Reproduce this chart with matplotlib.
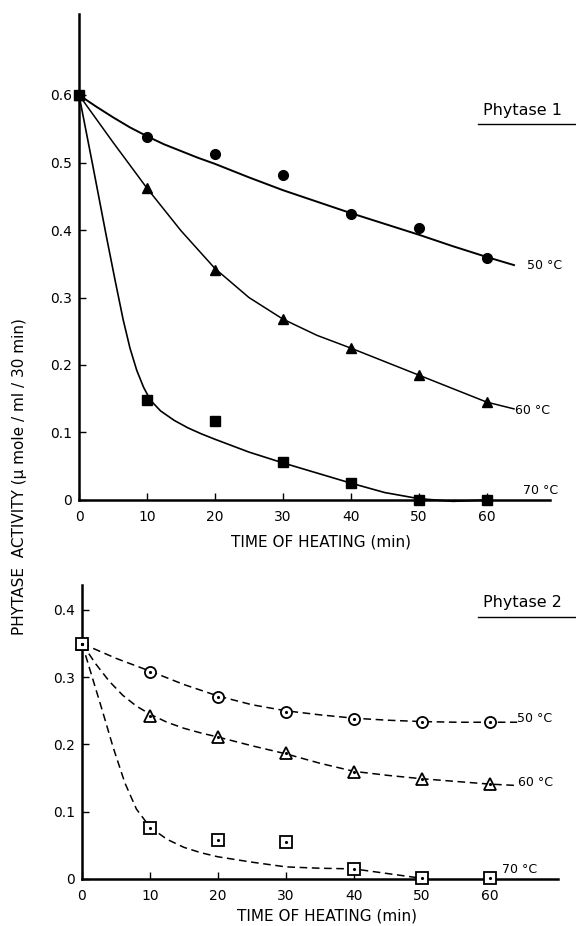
import matplotlib
matplotlib.use("Agg")
import matplotlib.pyplot as plt
from matplotlib.lines import Line2D

# ---------------- data ----------------
time_points = [0, 10, 20, 30, 40, 50, 60]

# Phytase 1 measured activities
p1_50 = [0.600, 0.538, 0.513, 0.481, 0.424, 0.403, 0.358]
p1_60 = [0.600, 0.462, 0.341, 0.268, 0.225, 0.185, 0.145]
p1_70 = [0.600, 0.148, 0.117, 0.056, 0.025, 0.000, 0.000]

# Phytase 1 fitted curves
p1_50_fit_t = [0, 2.5, 5, 7.5, 10, 12.5, 15, 17.5, 20, 25, 30, 35, 40, 45, 50, 55, 60, 64]
p1_50_fit_v = [0.600, 0.583, 0.567, 0.552, 0.539, 0.527, 0.517, 0.507, 0.498, 0.478, 0.459, 0.442,
               0.425, 0.409, 0.393, 0.376, 0.360, 0.348]
p1_60_fit_t = [0, 5, 10, 15, 20, 25, 30, 35, 40, 45, 50, 55, 60, 64]
p1_60_fit_v = [0.600, 0.530, 0.462, 0.399, 0.343, 0.300, 0.268, 0.244, 0.225, 0.205, 0.185, 0.165,
               0.145, 0.135]
p1_70_fit_t = [0, 2, 4, 5.3, 6.5, 7.5, 8.5, 9.5, 10.5, 12, 14, 16, 18, 20, 25, 30, 35, 40, 45, 50,
               55, 60]
p1_70_fit_v = [0.600, 0.497, 0.392, 0.326, 0.267, 0.225, 0.192, 0.167, 0.148, 0.132, 0.118, 0.107,
               0.098, 0.090, 0.071, 0.055, 0.040, 0.025, 0.011, 0.002, -0.002, 0.000]

# Phytase 2 measured activities
p2_50 = [0.350, 0.308, 0.270, 0.248, 0.238, 0.233, 0.233]
p2_60 = [0.350, 0.242, 0.211, 0.187, 0.159, 0.149, 0.141]
p2_70 = [0.350, 0.076, 0.058, 0.055, 0.015, 0.001, 0.001]

# Phytase 2 fitted curves
p2_50_fit_t = [0, 5, 10, 15, 20, 25, 30, 35, 40, 45, 50, 55, 60, 64]
p2_50_fit_v = [0.350, 0.328, 0.309, 0.289, 0.272, 0.259, 0.250, 0.244, 0.239, 0.236, 0.234, 0.233,
               0.233, 0.233]
p2_60_fit_t = [0, 2, 4, 6, 8, 10, 12.5, 15, 17.5, 20, 25, 30, 35, 40, 45, 50, 55, 60, 64]
p2_60_fit_v = [0.350, 0.320, 0.294, 0.273, 0.257, 0.245, 0.233, 0.224, 0.217, 0.211, 0.198, 0.186,
               0.172, 0.160, 0.154, 0.149, 0.145, 0.141, 0.139]
p2_70_fit_t = [0, 1.5, 3, 4.6, 6.3, 8, 10, 12.5, 15, 17.5, 20, 25, 30, 35, 40, 45, 50]
p2_70_fit_v = [0.350, 0.300, 0.250, 0.195, 0.143, 0.104, 0.077, 0.059, 0.047, 0.039, 0.033, 0.025,
               0.018, 0.016, 0.015, 0.008, 0.001]

x_ticks = [0, 10, 20, 30, 40, 50, 60]
x_ticklabels = ["0", "10", "20", "30", "40", "50", "60"]
p1_yticks = [0, 0.1, 0.2, 0.3, 0.4, 0.5, 0.6]
p1_yticklabels = ["0", "0.1", "0.2", "0.3", "0.4", "0.5", "0.6"]
p2_yticks = [0, 0.1, 0.2, 0.3, 0.4]
p2_yticklabels = ["0", "0.1", "0.2", "0.3", "0.4"]

temp_labels = ["50 °C", "60 °C", "70 °C"]
panel_titles = ["Phytase 1", "Phytase 2"]
xlabel = "TIME OF HEATING (min)"
ylabel = "PHYTASE  ACTIVITY (\u03bc mole / ml / 30 min)"

# ---------------- figure ----------------
plt.rcParams['font.family'] = ['DejaVu Sans']
W, H = 576, 926
fig = plt.figure(figsize=(W / 100, H / 100), dpi=100)

ax1 = fig.add_axes([79 / W, 1 - 500 / H, (550 - 79) / W, (500 - 14) / H])
ax2 = fig.add_axes([82 / W, 1 - 879 / H, (558 - 82) / W, (879 - 585) / H])

def style_axes(ax, yticks, yticklabels, xmax, ymax):
    ax.set_xlim(0, xmax)
    ax.set_ylim(0, ymax)
    for s in ("top", "right"):
        ax.spines[s].set_visible(False)
    for s in ("left", "bottom"):
        ax.spines[s].set_linewidth(1.8)
    ax.set_xticks(x_ticks)
    ax.set_xticklabels(x_ticklabels, fontsize=10)
    ax.set_yticks(yticks)
    ax.set_yticklabels(yticklabels, fontsize=10)
    ax.tick_params(axis="both", direction="in", length=5, width=1.0, color="black")
    ax.tick_params(axis="x", pad=7)
    ax.tick_params(axis="y", pad=5)

style_axes(ax1, p1_yticks, p1_yticklabels, 69.3, 0.72)
style_axes(ax2, p2_yticks, p2_yticklabels, 70.0, 0.437)

# Phytase 1 curves
ax1.plot(p1_50_fit_t, p1_50_fit_v, color="black", lw=1.4, clip_on=False)
ax1.plot(p1_60_fit_t, p1_60_fit_v, color="black", lw=1.1, clip_on=False)
ax1.plot(p1_70_fit_t, p1_70_fit_v, color="black", lw=1.2, clip_on=False)
ax1.plot(time_points, p1_50, "o", color="black", ms=7, clip_on=False, zorder=5)
ax1.plot(time_points, p1_60, "^", color="black", ms=7.5, clip_on=False, zorder=5)
ax1.plot(time_points, p1_70, "s", color="black", ms=7, clip_on=False, zorder=6)

# Phytase 2 curves
dash = (0, (5, 3))
ax2.plot(p2_50_fit_t, p2_50_fit_v, color="black", lw=1.1, ls=dash, clip_on=False)
ax2.plot(p2_60_fit_t, p2_60_fit_v, color="black", lw=1.1, ls=dash, clip_on=False)
ax2.plot(p2_70_fit_t, p2_70_fit_v, color="black", lw=1.1, ls=dash, clip_on=False)
for vals, mk, ms in ((p2_50, "o", 8), (p2_60, "^", 8.5), (p2_70, "s", 8)):
    ax2.plot(time_points, vals, mk, mfc="white", mec="black", mew=1.3, ms=ms,
             clip_on=False, zorder=5)
    ax2.plot(time_points, vals, ".", color="black", ms=2.5, clip_on=False, zorder=6)

# Temperature labels
ax1.text(65.9, 0.348, temp_labels[0], fontsize=9, va="center", ha="left")
ax1.text(64.1, 0.133, temp_labels[1], fontsize=9, va="center", ha="left")
ax1.text(65.3, 0.004, temp_labels[2], fontsize=9, va="bottom", ha="left")
ax2.text(64.0, 0.238, temp_labels[0], fontsize=9, va="center", ha="left")
ax2.text(64.1, 0.143, temp_labels[1], fontsize=9, va="center", ha="left")
ax2.text(61.8, 0.004, temp_labels[2], fontsize=9, va="bottom", ha="left")

# Panel titles with underline
for title, yc, yl in ((panel_titles[0], 111, 124), (panel_titles[1], 603, 617)):
    fig.text(483 / W, 1 - yc / H, title, fontsize=11.5, ha="left", va="center")
    fig.add_artist(Line2D([478 / W, 1.0], [1 - yl / H, 1 - yl / H],
                          transform=fig.transFigure, color="black", lw=1.0))

# Axis labels
fig.text(321 / W, 1 - 542 / H, xlabel, fontsize=11, ha="center", va="center")
fig.text(327 / W, 1 - 916 / H, xlabel, fontsize=11, ha="center", va="center")
fig.text(20 / W, 1 - 477 / H, ylabel, fontsize=11, rotation=90, ha="center", va="center")

fig.savefig("out.png", dpi=100)
